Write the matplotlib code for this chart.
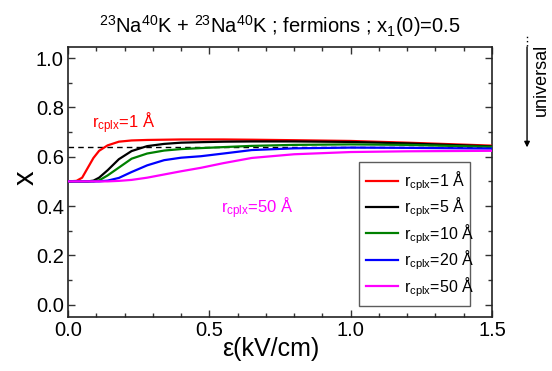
import matplotlib
matplotlib.use("Agg")
import matplotlib.pyplot as plt
from matplotlib.ticker import MultipleLocator, FormatStrFormatter

plt.rcParams['font.family'] = ['Liberation Sans', 'DejaVu Sans']
plt.rcParams['mathtext.fontset'] = 'custom'
plt.rcParams['mathtext.rm'] = 'Liberation Sans'
plt.rcParams['mathtext.it'] = 'Liberation Sans'

# Electric field (kV/cm)
field = [0.0, 0.03, 0.05, 0.07, 0.09, 0.11, 0.14, 0.18, 0.225, 0.28, 0.34, 0.4,
         0.47, 0.55, 0.65, 0.8, 1.0, 1.2, 1.5]

# Fraction x for each complex radius
x_r1 = [0.5, 0.502, 0.515, 0.555, 0.595, 0.624, 0.646, 0.661, 0.666, 0.668, 0.669,
        0.67, 0.67, 0.67, 0.669, 0.667, 0.664, 0.657, 0.645]
x_r5 = [0.5, 0.5, 0.5, 0.5, 0.503, 0.515, 0.545, 0.59, 0.623, 0.643, 0.652,
        0.657, 0.659, 0.661, 0.662, 0.662, 0.66, 0.654, 0.642]
x_r10 = [0.5, 0.5, 0.5, 0.5, 0.5, 0.504, 0.524, 0.556, 0.592, 0.613, 0.625,
         0.631, 0.635, 0.639, 0.644, 0.648, 0.65, 0.648, 0.64]
x_r20 = [0.5, 0.5, 0.5, 0.5, 0.5, 0.5, 0.503, 0.514, 0.538, 0.565, 0.586,
         0.596, 0.602, 0.613, 0.627, 0.634, 0.637, 0.636, 0.633]
x_r50 = [0.5, 0.5, 0.5, 0.5, 0.5, 0.5, 0.5, 0.502, 0.506, 0.515, 0.528,
         0.541, 0.555, 0.574, 0.595, 0.61, 0.619, 0.622, 0.624]

radii = ["1", "5", "10", "20", "50"]
colors = ["#ff0000", "#000000", "#008000", "#0000ff", "#ff00ff"]
series = [x_r1, x_r5, x_r10, x_r20, x_r50]

universal_x = 0.638

fig = plt.figure(figsize=(5.52, 3.71), dpi=100)
ax = fig.add_axes([0.1232, 0.1456, 0.8913 - 0.1232, 0.8733 - 0.1456])

ax.axhline(universal_x, color="black", lw=1.0, ls=(0, (4, 3)), zorder=1)

for r, c, y in zip(radii, colors, series):
    ax.plot(field, y, color=c, lw=1.6, label=r"r$_{\rm cplx}$=" + r + " Å", zorder=3)

ax.set_xlim(0, 1.5)
ax.set_ylim(-0.05, 1.045)
ax.xaxis.set_major_locator(MultipleLocator(0.5))
ax.xaxis.set_minor_locator(MultipleLocator(0.1))
ax.yaxis.set_major_locator(MultipleLocator(0.2))
ax.yaxis.set_minor_locator(MultipleLocator(0.1))
ax.xaxis.set_major_formatter(FormatStrFormatter('%.1f'))
ax.yaxis.set_major_formatter(FormatStrFormatter('%.1f'))
ax.tick_params(which="both", direction="in", top=True, right=True, labelsize=14.5,
               width=1.0, color="#333333")
ax.tick_params(which="major", length=5, pad=3)
ax.tick_params(which="minor", length=3)
for s in ax.spines.values():
    s.set_linewidth(1.2)
    s.set_color("#222222")

ax.set_xlabel("ε(kV/cm)", fontsize=18, va="top")
ax.xaxis.set_label_coords(0.479, -0.075)
ax.set_ylabel("x", fontsize=21, va="center", ha="center")
ax.yaxis.set_label_coords(-0.101, 0.515)
ax.set_title(r"$^{23}$Na$^{40}$K + $^{23}$Na$^{40}$K ; fermions ; x$_1$(0)=0.5",
             fontsize=14.5, pad=10)

ax.text(0.085, 0.735, r"r$_{\rm cplx}$=1 Å", color="#ff0000", fontsize=12,
        va="center", ha="left")
ax.text(0.54, 0.393, r"r$_{\rm cplx}$=50 Å", color="#ff00ff", fontsize=12,
        va="center", ha="left")

leg = ax.legend(loc="upper left", bbox_to_anchor=(0.686, 0.574, 0.262, 0.0),
                mode="expand", fontsize=11.5, frameon=True, fancybox=False,
                handlelength=2.0, handletextpad=0.35, borderaxespad=0,
                labelspacing=0.18, borderpad=0.45)
leg.get_frame().set_edgecolor("#333333")
leg.get_frame().set_linewidth(1.0)

# Arrow pointing down to the universal value
ax.annotate("", xy=(1.624, universal_x), xytext=(1.624, 1.045),
            xycoords="data", textcoords="data", annotation_clip=False,
            arrowprops=dict(arrowstyle="-|>", color="black", lw=1.0,
                            mutation_scale=8, shrinkA=0, shrinkB=0))
ax.plot([1.624, 1.624], [1.05, 1.09], color="black", lw=1.0, ls=(0, (1, 2)),
        clip_on=False)
ax.text(1.673, 0.91, "universal", rotation=90, fontsize=13, ha="center",
        va="center", clip_on=False)

fig.savefig("out.png", dpi=100)
